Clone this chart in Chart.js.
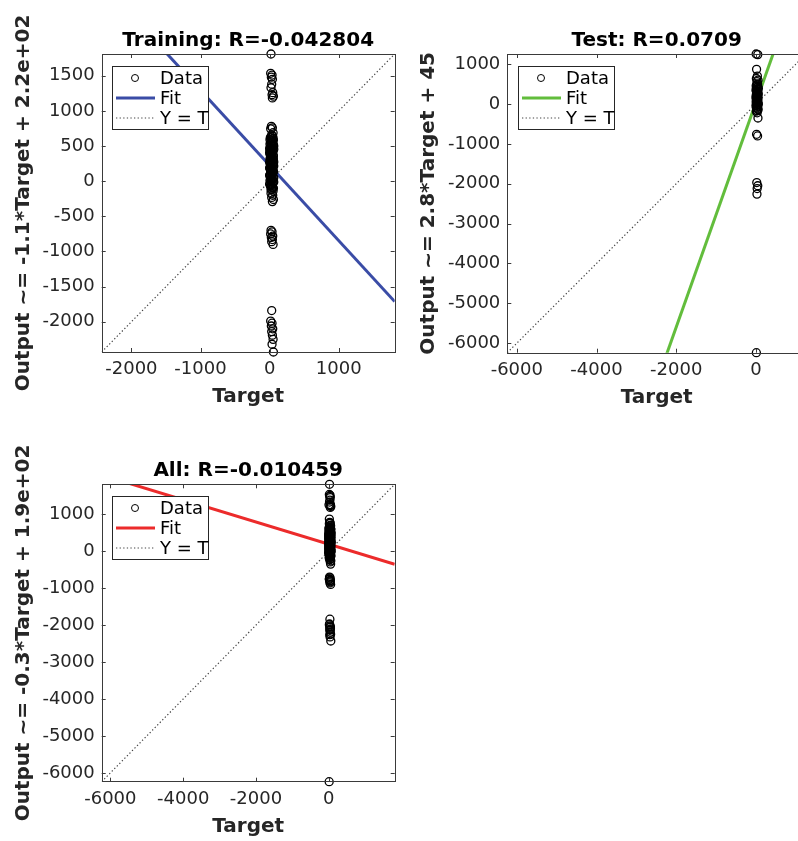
<!DOCTYPE html>
<html><head><meta charset="utf-8">
<script src="https://cdn.jsdelivr.net/npm/chart.js@4.4.1/dist/chart.umd.min.js"></script>
<style>
html,body{margin:0;padding:0;background:#fff;overflow:hidden;width:798px;height:841px;}
#wrap{position:relative;width:798px;height:841px;overflow:hidden;background:#fff;}
canvas{position:absolute;}
</style></head><body><div id="wrap">
<canvas id="c1" width="400" height="420" style="left:0;top:0;width:400px;height:420px"></canvas>
<canvas id="c2" width="420" height="420" style="left:400px;top:0;width:420px;height:420px"></canvas>
<canvas id="c3" width="400" height="421" style="left:0;top:420px;width:400px;height:421px"></canvas>
</div>
<script>
// ---------- data ----------
const trainTarget = [20,15,35,25,40,30,20,45,35,55,40, 25,40,15,50,30,
  10,35,55,20,45,5,30,60,15,40,25,50,0,10,35,55,20,45,5,30,60,15,40,25,50,0,10,35,55,20,45,5,30,60,15,40,25,50,0,10,35,55,20,
  45,25,50,5,30,15,40,55,20,45,10,35,60,25,45,
  25,50,5,40,15,55,35,0,60,20,45,5,50,30,10,55,35,0,50,20,60,30,5,45,15,55,35,0,50,20,5,40,15,30,50,
  20,45,30,55,40,
  20,35,15,45,25,40,30,50,
  30,15,35,25,45,30,40,50,35,55];
const trainOutput = [1810,1535,1510,1480,1450,1380,1330,1260,1230,1210,1185, 780,760,745,690,660,
  620,600,585,570,550,530,515,500,480,465,450,430,410,395,380,360,340,325,310,290,275,260,240,225,210,190,175,160,140,120,105,90,70,50,35,20,0,-20,-40,-60,-80,-100,-120,
  640,555,490,445,400,350,300,250,200,150,95,40,-10,-50,-90,
  630,610,590,575,540,520,505,470,455,435,415,385,370,345,330,315,280,265,245,230,215,195,180,165,145,130,110,80,60,25,10,-30,-70,-110,-140,
  -170,-200,-230,-260,-290,
  -700,-720,-750,-780,-800,-830,-860,-900,
  -1840,-1990,-2020,-2060,-2100,-2140,-2190,-2250,-2320,-2430];
const testTarget = [5,45,15,35,10,50,25,40,5,30,60,15,45,20,55,10,35,0,50,25,40,5,30,60,15,45,20,55,10,30,50,15,40,20,45,30,25,10,
  20,50,10,35,0,25,40,15,55,20,30,5,45,15,50,10,35,0,25,40,30];
const testOutput = [1255,1240,870,700,640,600,560,500,460,420,390,360,330,300,270,240,210,180,150,120,90,60,30,0,-30,-60,-100,-140,-180,-220,-350,-760,-800,-1970,-2050,-2120,-2260,-6238,
  480,440,405,375,345,315,285,255,225,195,165,135,105,75,45,15,-15,-45,-80,-120,-160];
const allTarget = trainTarget.concat(testTarget);
const allOutput = trainOutput.concat(testOutput);

const titles = ['Training: R=-0.042804', 'Test: R=0.0709', 'All: R=-0.010459'];
const yLabels = ['Output ~= -1.1*Target + 2.2e+02', 'Output ~= 2.8*Target + 45', 'Output ~= -0.3*Target + 1.9e+02'];
const fitSlopes = [-1.07, 2.82, -0.3];
const fitIntercepts = [224, 45, 190];
const trainXTicks = [-2000,-1000,0,1000];
const trainYTicks = [-2000,-1500,-1000,-500,0,500,1000,1500];
const testXTicks = [-6000,-4000,-2000,0];
const testYTicks = [-6000,-5000,-4000,-3000,-2000,-1000,0,1000];
const allXTicks = [-6000,-4000,-2000,0];
const allYTicks = [-6000,-5000,-4000,-3000,-2000,-1000,0,1000];
const legendLabels = ['Data','Fit','Y = T'];

// ---------- styling ----------
const FONT = "'DejaVu Sans', sans-serif";
const AXC = '#262626';
Chart.defaults.font.family = FONT;
Chart.defaults.color = AXC;

const panels = [
  {id:'c1', t:trainTarget, o:trainOutput, xt:trainXTicks, yt:trainYTicks, k:0, color:'#3a4ca6',
   geo:{padL:12, padT:54, padR:1.5, padB:11.3, yW:89.7, xH:56.7}},
  {id:'c2', t:testTarget, o:testOutput, xt:testXTicks, yt:testYTicks, k:1, color:'#62bd3c',
   geo:{padL:17, padT:54, padR:14, padB:10.6, yW:90.3, xH:56.7}},
  {id:'c3', t:allTarget, o:allOutput, xt:allXTicks, yt:allYTicks, k:2, color:'#ec2b2b',
   geo:{padL:12, padT:64.3, padR:1, padB:2.6, yW:89.7, xH:56.7}}
];

const mlPlugin = {
  id: 'mlAxes',
  afterDraw(chart, args, opts) {
    const {ctx, chartArea: a, scales} = chart;
    const xs = scales.x, ys = scales.y;
    ctx.save();
    ctx.strokeStyle = '#3a3a3a';
    ctx.lineWidth = 1;
    ctx.strokeRect(Math.round(a.left) + 0.5, Math.round(a.top) + 0.5, Math.round(a.right - a.left), Math.round(a.bottom - a.top));
    const tl = 4;
    ctx.beginPath();
    opts.xt.forEach(v => {
      const px = Math.round(xs.getPixelForValue(v)) + 0.5;
      ctx.moveTo(px, a.bottom); ctx.lineTo(px, a.bottom - tl);
      ctx.moveTo(px, a.top); ctx.lineTo(px, a.top + tl);
    });
    opts.yt.forEach(v => {
      const py = Math.round(ys.getPixelForValue(v)) + 0.5;
      ctx.moveTo(a.left, py); ctx.lineTo(a.left + tl, py);
      ctx.moveTo(a.right, py); ctx.lineTo(a.right - tl, py);
    });
    ctx.stroke();
    ctx.fillStyle = '#000';
    ctx.font = 'bold 20px ' + FONT;
    ctx.textAlign = 'center';
    ctx.textBaseline = 'alphabetic';
    ctx.fillText(opts.title, (a.left + a.right) / 2, a.top - 8.5);
    const x0 = Math.round(a.left + 10.7) + 0.5, y0 = Math.round(a.top + 11.7) + 0.5, w = 96, h = 63;
    ctx.fillStyle = '#fff';
    ctx.fillRect(x0, y0, w, h);
    ctx.strokeStyle = '#262626';
    ctx.lineWidth = 1;
    ctx.strokeRect(x0, y0, w, h);
    const ds = chart.data.datasets;
    const rows = [11.5, 31.5, 51.5];
    ctx.font = '18px ' + FONT;
    ctx.textAlign = 'left';
    ctx.textBaseline = 'middle';
    ds.forEach((d, i) => {
      const yy = y0 + rows[i];
      ctx.save();
      if (i === 0) {
        ctx.strokeStyle = d.pointBorderColor; ctx.lineWidth = 1;
        ctx.beginPath(); ctx.arc(x0 + 22.5, yy, 3.5, 0, Math.PI * 2); ctx.stroke();
      } else {
        ctx.strokeStyle = d.borderColor; ctx.lineWidth = d.borderWidth;
        if (d.borderDash) ctx.setLineDash(d.borderDash);
        ctx.beginPath(); ctx.moveTo(x0 + 3.5, yy); ctx.lineTo(x0 + 42.5, yy); ctx.stroke();
      }
      ctx.restore();
      ctx.fillStyle = '#000';
      ctx.fillText(d.label, x0 + 47.5, yy + 1);
    });
    ctx.restore();
  }
};

panels.forEach(p => {
  const lo = Math.min(Math.min(...p.t), Math.min(...p.o));
  const hi = Math.max(Math.max(...p.t), Math.max(...p.o));
  const pts = p.t.map((v, i) => ({x: v, y: p.o[i]}));
  const m = fitSlopes[p.k], b = fitIntercepts[p.k];
  const g = p.geo;
  new Chart(document.getElementById(p.id), {
    type: 'scatter',
    data: {
      datasets: [
        {label: legendLabels[0], data: pts, pointStyle: 'circle', pointRadius: 4, pointBorderWidth: 1.3,
         pointBorderColor: '#000', pointBackgroundColor: 'rgba(0,0,0,0)', showLine: false, clip: false},
        {label: legendLabels[1], data: [{x: lo, y: m * lo + b}, {x: hi, y: m * hi + b}], showLine: true,
         borderColor: p.color, borderWidth: 3, pointRadius: 0, clip: 0},
        {label: legendLabels[2], data: [{x: lo, y: lo}, {x: hi, y: hi}], showLine: true,
         borderColor: '#444', borderWidth: 1.2, borderDash: [1.3, 2.3], pointRadius: 0, clip: 0}
      ]
    },
    options: {
      responsive: false, animation: false, events: [],
      devicePixelRatio: 1,
      layout: {padding: {left: g.padL, top: g.padT, right: g.padR, bottom: g.padB}},
      plugins: {legend: {display: false}, tooltip: {enabled: false}, title: {display: false},
        mlAxes: {xt: p.xt, yt: p.yt, title: titles[p.k]}},
      scales: {
        x: {type: 'linear', position: 'bottom', min: lo, max: hi,
          grid: {display: false, drawTicks: false}, border: {display: false},
          afterBuildTicks: s => { s.ticks = p.xt.map(v => ({value: v})); },
          afterFit: s => { s.height = g.xH; s.paddingLeft = 0; s.paddingRight = 0; },
          ticks: {padding: 7, color: AXC, font: {size: 18}, maxRotation: 0, autoSkip: false, callback: v => String(v)},
          title: {display: true, text: 'Target', color: AXC, font: {size: 20, weight: 'bold'}, padding: 0}
        },
        y: {type: 'linear', position: 'left', min: lo, max: hi,
          grid: {display: false, drawTicks: false}, border: {display: false},
          afterBuildTicks: s => { s.ticks = p.yt.map(v => ({value: v})); },
          afterFit: s => { s.width = g.yW; s.paddingTop = 0; s.paddingBottom = 0; },
          ticks: {padding: 7, color: AXC, font: {size: 18}, autoSkip: false, callback: v => String(v)},
          title: {display: true, text: yLabels[p.k], color: AXC, font: {size: 20, weight: 'bold'}, padding: 0}
        }
      }
    },
    plugins: [mlPlugin]
  });
});
</script></body></html>
